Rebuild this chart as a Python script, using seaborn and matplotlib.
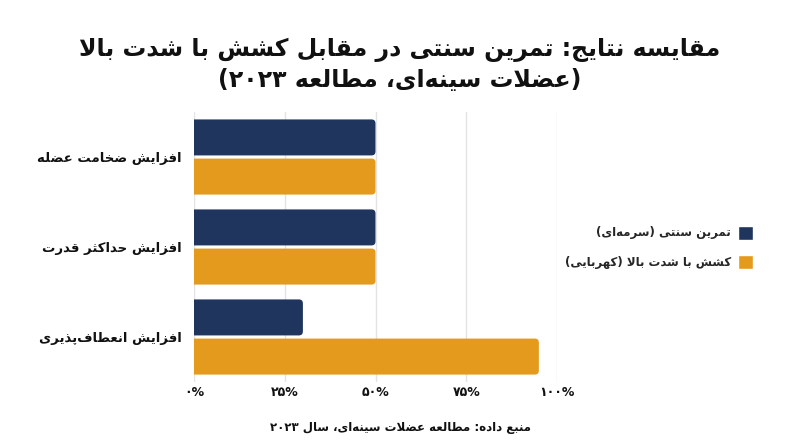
import matplotlib
matplotlib.use("Agg")
import matplotlib.pyplot as plt
from matplotlib.patches import FancyBboxPatch
import seaborn as sns
import pandas as pd

# ---------------- data ----------------
title_line1 = "مقایسه نتایج: تمرین سنتی در مقابل کشش با شدت بالا"
title_line2 = "(عضلات سینه‌ای، مطالعه ۲۰۲۳)"
source_text = "منبع داده: مطالعه عضلات سینه‌ای، سال ۲۰۲۳"
categories = ["افزایش ضخامت عضله", "افزایش حداکثر قدرت", "افزایش انعطاف‌پذیری"]
series_names = ["تمرین سنتی (سرمه‌ای)", "کشش با شدت بالا (کهربایی)"]
traditional_values = [50, 50, 30]
stretch_values = [50, 50, 95]
x_ticks = [0, 25, 50, 75, 100]
x_tick_labels = ["۰%", "۲۵%", "۵۰%", "۷۵%", "۱۰۰%"]
colors = ["#1f355e", "#e49b1d"]

# ---------------- minimal Persian shaping + bidi ----------------
DUAL = {
    '\u0628': 'FE8F', '\u067E': 'FB56', '\u062A': 'FE95', '\u062B': 'FE99',
    '\u062C': 'FE9D', '\u0686': 'FB7A', '\u062D': 'FEA1', '\u062E': 'FEA5',
    '\u0633': 'FEB1', '\u0634': 'FEB5', '\u0635': 'FEB9', '\u0636': 'FEBD',
    '\u0637': 'FEC1', '\u0638': 'FEC5', '\u0639': 'FEC9', '\u063A': 'FECD',
    '\u0641': 'FED1', '\u0642': 'FED5', '\u06A9': 'FB8E', '\u06AF': 'FB92',
    '\u0644': 'FEDD', '\u0645': 'FEE1', '\u0646': 'FEE5', '\u0647': 'FEE9',
    '\u06CC': 'FBFC', '\u0626': 'FE89',
}
RIGHT = {
    '\u0627': 'FE8D', '\u062F': 'FEA9', '\u0630': 'FEAB', '\u0631': 'FEAD',
    '\u0632': 'FEAF', '\u0698': 'FB8A', '\u0648': 'FEED', '\u0622': 'FE81',
}


def is_letter(c):
    return c in DUAL or c in RIGHT


def shape(text):
    out = []
    chars = list(text)
    n = len(chars)
    i = 0
    while i < n:
        c = chars[i]
        if not is_letter(c):
            if c != '\u200c':
                out.append(c)
            i += 1
            continue
        prev = chars[i - 1] if i > 0 else ''
        join_prev = prev in DUAL
        # lam-alef ligature
        if c == '\u0644' and i + 1 < n and chars[i + 1] in ('\u0627', '\u0622'):
            if chars[i + 1] == '\u0627':
                out.append('\uFEFC' if join_prev else '\uFEFB')
            else:
                out.append('\uFEF6' if join_prev else '\uFEF5')
            i += 2
            continue
        nxt = chars[i + 1] if i + 1 < n else ''
        join_next = (c in DUAL) and is_letter(nxt)
        base = int((DUAL.get(c) or RIGHT.get(c)), 16)
        if join_prev and join_next:
            code = base + 3
        elif join_prev:
            code = base + 1
        elif join_next:
            code = base + 2
        else:
            code = base
        out.append(chr(code))
        i += 1
    # bidi: reverse, keep digit runs LTR, mirror brackets
    rev = out[::-1]
    digits = set("0123456789۰۱۲۳۴۵۶۷۸۹")
    res = []
    j = 0
    while j < len(rev):
        if rev[j] in digits:
            k = j
            while k < len(rev) and rev[k] in digits:
                k += 1
            res.extend(rev[j:k][::-1])
            j = k
        else:
            ch = rev[j]
            ch = {'(': ')', ')': '('}.get(ch, ch)
            res.append(ch)
            j += 1
    return ''.join(res)


# ---------------- dataframe ----------------
cat_disp = [shape(c) for c in categories]
ser_disp = [shape(s) for s in series_names]
rows = []
for c, v in zip(cat_disp, traditional_values):
    rows.append({"cat": c, "series": ser_disp[0], "value": v})
for c, v in zip(cat_disp, stretch_values):
    rows.append({"cat": c, "series": ser_disp[1], "value": v})
df = pd.DataFrame(rows)

# ---------------- plot ----------------
sns.set_theme(style="white")
plt.rcParams['font.family'] = ['DejaVu Sans']
plt.rcParams['font.weight'] = 'bold'

fig = plt.figure(figsize=(8, 4.47), dpi=100)
ax = fig.add_axes([194 / 800, 1 - 382 / 447, (557 - 194) / 800, (382 - 112) / 447])

sns.barplot(data=df, y="cat", x="value", hue="series", order=cat_disp,
            hue_order=ser_disp, palette=colors, width=0.87, orient="h",
            ax=ax, saturation=1, legend=True)

ax.set_xlim(0, 100)
ax.set_ylim(2.5, -0.5)

# replace bars by slightly rounded, thinner bars
px_x = 100 / (557 - 194)      # data units per pixel (x)
px_y = 3.0 / (382 - 112)      # data units per pixel (y)
r = 4 * px_x
aspect = px_y / px_x
for p in list(ax.patches):
    x0, y0 = p.get_x(), p.get_y()
    w, h = p.get_width(), p.get_height()
    if w <= 0:
        continue
    cy = y0 + h / 2
    nh = 0.40
    fc = p.get_facecolor()
    p.set_visible(False)
    fb = FancyBboxPatch((x0 - 3, cy - nh / 2), w + 3, nh,
                        boxstyle=f"round,pad=0,rounding_size={r}",
                        mutation_aspect=aspect, facecolor=fc,
                        edgecolor="none", zorder=3)
    fb.set_clip_on(True)
    ax.add_patch(fb)

ax.set_xticks(x_ticks)
ax.set_xticklabels(x_tick_labels, fontsize=9, fontweight="bold")
ax.tick_params(axis="both", length=0)
ax.tick_params(axis="x", pad=3)
ax.tick_params(axis="y", pad=9, labelsize=9.5)
for t in ax.get_yticklabels():
    t.set_fontweight("bold")
    t.set_color("#111111")
for t in ax.get_xticklabels():
    t.set_color("#111111")
ax.set_xlabel("")
ax.set_ylabel("")
for s in ax.spines.values():
    s.set_visible(False)
ax.grid(axis="x", color="#e3e3e3", linewidth=1, zorder=0)
ax.set_axisbelow(True)

# legend (marker on the right, RTL style)
handles, labels = ax.get_legend_handles_labels()
ax.get_legend().remove()
fig.legend(handles, labels, loc="center right",
           bbox_to_anchor=(764 / 800, 1 - 247.5 / 447), frameon=False,
           markerfirst=False, handlelength=1.3, handleheight=1.45,
           handletextpad=0.6, labelspacing=1.35,
           prop={"weight": "bold", "size": 8.5})

fig.text(0.5, 1 - 50 / 447, shape(title_line1), ha="center", va="center",
         fontsize=17, fontweight="bold", color="#111111")
fig.text(0.5, 1 - 80 / 447, shape(title_line2), ha="center", va="center",
         fontsize=17, fontweight="bold", color="#111111")
fig.text(0.5, 1 - 427 / 447, shape(source_text), ha="center", va="center",
         fontsize=8.5, fontweight="bold", color="#111111")

fig.savefig("out.png", dpi=100, facecolor="white")
